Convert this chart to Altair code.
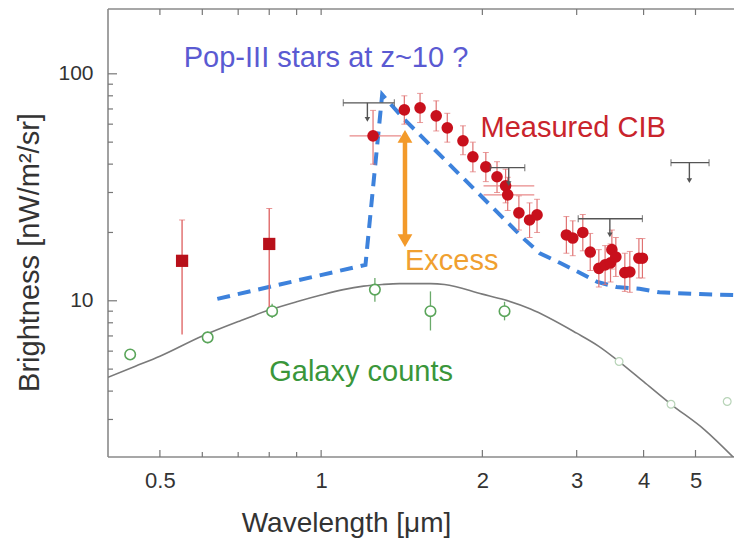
import altair as alt
import pandas as pd

FONT = "Liberation Sans"

# ---- data ----
# galaxy-count model curve (gray)
gal_x = [0.40, 0.45, 0.50, 0.60, 0.70, 0.80, 0.90, 1.00, 1.10, 1.20, 1.30, 1.40, 1.60, 1.70,
         2.00, 2.20, 2.46, 3.00, 3.30, 3.60, 4.00, 4.50, 5.20, 5.90]
gal_y = [4.6, 5.15, 5.7, 7.0, 8.1, 9.1, 9.9, 10.6, 11.2, 11.6, 11.8, 11.9, 11.9, 11.8,
         10.7, 10.1, 9.2, 7.2, 6.3, 5.4, 4.4, 3.5, 2.7, 2.03]

# Pop-III + galaxies model (blue dashed)
pop_x = [0.64, 1.21, 1.30, 1.43, 2.40, 2.56, 2.79, 3.04, 3.28, 3.56, 3.93, 4.28, 5.09, 5.9]
pop_y = [10.2, 14.4, 81.0, 63.0, 18.6, 16.2, 14.7, 13.3, 12.1, 11.5, 11.3, 10.9, 10.7, 10.6]

# galaxy counts (open green circles)
gc_x = [0.44, 0.614, 0.81, 1.26, 1.60, 2.20]
gc_y = [5.8, 6.9, 9.0, 11.2, 9.0, 9.0]
gc_lo = [5.5, 6.5, 8.4, 9.9, 7.4, 8.2]
gc_hi = [6.1, 7.3, 9.7, 12.6, 11.0, 9.9]
gcf_x = [3.6, 4.5, 5.73]
gcf_y = [5.4, 3.5, 3.6]

# red squares
sq_x = [0.55, 0.80]
sq_y = [15.0, 17.8]
sq_lo = [7.1, 9.4]
sq_hi = [22.7, 25.5]

# measured CIB (red circles)
cib_x = [1.25, 1.43, 1.53, 1.64, 1.72, 1.84, 1.92, 2.03, 2.13, 2.21, 2.23, 2.34, 2.45, 2.53,
         2.87, 2.95, 3.08, 3.18, 3.30, 3.39, 3.47, 3.49, 3.55, 3.69, 3.77, 3.92, 3.98]
cib_y = [53.3, 69.4, 70.8, 65.3, 57.8, 50.7, 43.1, 38.9, 35.2, 32.1, 29.3, 24.4, 22.7, 23.9,
         19.5, 18.9, 20.0, 16.4, 13.9, 14.4, 14.7, 16.8, 15.6, 13.3, 13.4, 15.4, 15.4]
cib_hi = [69.0, 80, 82, 76, 67, 59, 50, 45, 41, 38, 35, 29, 27, 28,
          23.5, 22.5, 24, 19.8, 16.8, 17.5, 17.8, 20.5, 19, 16.2, 16.5, 18.8, 18.8]
cib_lo = [40.0, 60, 61, 56, 50, 44, 37, 33.5, 30, 27, 25, 20.5, 19, 20,
          16.2, 15.8, 16.6, 13.6, 11.5, 11.8, 12.1, 13.8, 12.8, 11.0, 10.9, 12.6, 12.6]
# horizontal bars on some CIB points
cibh_x = [1.25, 2.21, 2.23]
cibh_y = [53.3, 32.1, 29.3]
cibh_lo = [1.13, 2.01, 2.01]
cibh_hi = [1.41, 2.50, 2.50]

# upper limits (gray)
ul_x = [1.22, 2.24, 3.46, 4.87]
ul_xlo = [1.10, 2.07, 3.02, 4.50]
ul_xhi = [1.37, 2.40, 3.98, 5.30]
ul_y = [74.5, 38.6, 23.0, 40.6]
ul_tip = [63.0, 32.8, 19.5, 33.8]

# excess arrow
exc_x = [1.434]
exc_top = [53.0]
exc_bot = [18.4]

# annotations
lab_text = ["Pop-III stars at z~10 ?", "Measured CIB", "Excess", "Galaxy counts"]
lab_x = [0.554, 1.984, 1.434, 0.80]
lab_y = [117.6, 57.8, 15.0, 4.88]
lab_col = ["#5a5ad2", "#c9242c", "#f0a030", "#3a963a"]

# tick positions
xt_major = [0.5, 1, 2, 3, 4, 5]
xt_minor = [0.6, 0.7, 0.8, 0.9]
yt_major = [10, 100]
yt_minor = [3, 4, 5, 6, 7, 8, 9, 20, 30, 40, 50, 60, 70, 80, 90]

# ---- chart ----
W, H = 626, 448
xs = alt.Scale(type="log", domain=[0.4, 5.9], nice=False)
ys = alt.Scale(type="log", domain=[2.05, 193], nice=False)

AX = alt.Axis(
    values=xt_major, format="~g", ticks=False, tickSize=0, domain=False, grid=False,
    labelFont=FONT, labelFontSize=22, labelColor="#333", labelPadding=13,
    title="Wavelength [μm]", titleFont=FONT, titleFontSize=28, titleFontWeight="normal",
    titleColor="#333", titleX=238, titleY=66, titleBaseline="middle", titleAlign="center")
AY = alt.Axis(
    values=yt_major, format="d", ticks=False, tickSize=0, domain=False, grid=False,
    labelFont=FONT, labelFontSize=21, labelColor="#333", labelPadding=15,
    title="Brightness [nW/m²/sr]", titleFont=FONT, titleFontSize=29, titleFontWeight="normal",
    titleColor="#333", titleX=-79, titleY=243, titleBaseline="middle", titleAlign="center")


def X(f):
    return alt.X(f, type="quantitative", scale=xs, axis=AX)


def Y(f):
    return alt.Y(f, type="quantitative", scale=ys, axis=AY)


gal = pd.DataFrame({"x": gal_x, "y": gal_y})
pop = pd.DataFrame({"x": pop_x, "y": pop_y})
gc = pd.DataFrame({"x": gc_x, "y": gc_y, "lo": gc_lo, "hi": gc_hi})
gcf = pd.DataFrame({"x": gcf_x, "y": gcf_y})
sq = pd.DataFrame({"x": sq_x, "y": sq_y, "lo": sq_lo, "hi": sq_hi})
cib = pd.DataFrame({"x": cib_x, "y": cib_y, "lo": cib_lo, "hi": cib_hi})
cibh = pd.DataFrame({"x": cibh_x, "y": cibh_y, "lo": cibh_lo, "hi": cibh_hi})
ul = pd.DataFrame({"x": ul_x, "xlo": ul_xlo, "xhi": ul_xhi, "y": ul_y, "tip": ul_tip})
exc = pd.DataFrame({"x": exc_x, "top": exc_top, "bot": exc_bot})
labs = pd.DataFrame({"t": lab_text, "x": lab_x, "y": lab_y, "c": lab_col})

# frame: top, left, bottom (the right side is cut off in the reference)
FR = dict(color="#8a8a8a", strokeWidth=1.6)
frame_top = alt.Chart(pd.DataFrame({"a": [0]})).mark_rule(**FR).encode(
    x=alt.value(0), x2=alt.value(W), y=alt.value(0))
frame_left = alt.Chart(pd.DataFrame({"a": [0]})).mark_rule(**FR).encode(
    x=alt.value(0), y=alt.value(0), y2=alt.value(H))
frame_bottom = alt.Chart(pd.DataFrame({"a": [0]})).mark_rule(**FR).encode(
    x=alt.value(0), x2=alt.value(W), y=alt.value(H))

gal_line = alt.Chart(gal).mark_line(color="#7a7a7a", strokeWidth=1.6, clip=True, interpolate="monotone").encode(
    x=X("x"), y=Y("y"))

# ticks (inward)
xtick_major = alt.Chart(pd.DataFrame({"v": xt_major})).mark_rule(color="#777", strokeWidth=1.2).encode(
    x=X("v"), y=alt.value(H), y2=alt.value(H - 7))
xtick_minor = alt.Chart(pd.DataFrame({"v": xt_minor})).mark_rule(color="#777", strokeWidth=1.2).encode(
    x=X("v"), y=alt.value(H), y2=alt.value(H - 5))
xtick_top = alt.Chart(pd.DataFrame({"v": xt_major + xt_minor})).mark_rule(color="#777", strokeWidth=1.2).encode(
    x=X("v"), y=alt.value(0), y2=alt.value(6))
ytick_major = alt.Chart(pd.DataFrame({"v": yt_major})).mark_rule(color="#777", strokeWidth=1.2).encode(
    y=Y("v"), x=alt.value(0), x2=alt.value(9))
ytick_minor = alt.Chart(pd.DataFrame({"v": yt_minor})).mark_rule(color="#777", strokeWidth=1.2).encode(
    y=Y("v"), x=alt.value(0), x2=alt.value(5))

# galaxy count points
gc_err = alt.Chart(gc).mark_rule(color="#6aaa6a", strokeWidth=1.3).encode(x=X("x"), y=Y("lo"), y2="hi")
gc_pts = alt.Chart(gc).mark_point(shape="circle", size=110, color="#5aa55a", strokeWidth=1.6,
                                  fill="white", filled=False, opacity=1).encode(x=X("x"), y=Y("y"))
gcf_pts = alt.Chart(gcf).mark_point(shape="circle", size=60, color="#b8d4b8", strokeWidth=1.2,
                                    fill="white", filled=False, opacity=1).encode(x=X("x"), y=Y("y"))

# blue dashed model
pop_line = alt.Chart(pop).mark_line(color="#3d82dc", strokeWidth=4, strokeDash=[13, 8], clip=True).encode(
    x=X("x"), y=Y("y"))

# red squares
sq_err = alt.Chart(sq).mark_rule(color="#e06a6a", strokeWidth=1.4).encode(x=X("x"), y=Y("lo"), y2="hi")
sq_cap_hi = alt.Chart(sq).mark_tick(color="#e06a6a", orient="horizontal", size=6, thickness=1).encode(
    x=X("x"), y=Y("hi"))
sq_pts = alt.Chart(sq).mark_square(color="#b8101a", size=150, opacity=1).encode(x=X("x"), y=Y("y"))

# CIB
cib_err = alt.Chart(cib).mark_rule(color="#e07272", strokeWidth=1.2).encode(x=X("x"), y=Y("lo"), y2="hi")
cib_cap_hi = alt.Chart(cib).mark_tick(color="#e07272", orient="horizontal", size=6, thickness=1).encode(
    x=X("x"), y=Y("hi"))
cib_cap_lo = alt.Chart(cib).mark_tick(color="#e07272", orient="horizontal", size=6, thickness=1).encode(
    x=X("x"), y=Y("lo"))
cibh_err = alt.Chart(cibh).mark_rule(color="#e88a8a", strokeWidth=1.2).encode(x=X("lo"), x2="hi", y=Y("y"))
cib_pts = alt.Chart(cib).mark_circle(color="#c8101c", size=135, opacity=1).encode(x=X("x"), y=Y("y"))

# upper limits
ul_bar = alt.Chart(ul).mark_rule(color="#555", strokeWidth=1.4).encode(x=X("xlo"), x2="xhi", y=Y("y"))
ul_cap1 = alt.Chart(ul).mark_tick(color="#555", orient="vertical", size=7, thickness=1.2).encode(
    x=X("xlo"), y=Y("y"))
ul_cap2 = alt.Chart(ul).mark_tick(color="#555", orient="vertical", size=7, thickness=1.2).encode(
    x=X("xhi"), y=Y("y"))
ul_stem = alt.Chart(ul).mark_rule(color="#555", strokeWidth=1.4).encode(x=X("x"), y=Y("y"), y2="tip")
ul_head = alt.Chart(ul).mark_point(shape="triangle-down", size=30, color="#555", filled=True, opacity=1).encode(
    x=X("x"), y=Y("tip"))

# excess arrow
exc_stem = alt.Chart(exc).mark_rule(color="#f39a2a", strokeWidth=4.5).encode(x=X("x"), y=Y("top"), y2="bot")
exc_up = alt.Chart(exc).mark_point(shape="triangle-up", size=220, color="#f39a2a", filled=True, opacity=1).encode(
    x=X("x"), y=Y("top"))
exc_dn = alt.Chart(exc).mark_point(shape="triangle-down", size=220, color="#f39a2a", filled=True, opacity=1).encode(
    x=X("x"), y=Y("bot"))

# annotations
texts = alt.Chart(labs).mark_text(font=FONT, fontSize=29, align="left", baseline="middle").encode(
    x=X("x"), y=Y("y"), text="t:N", color=alt.Color("c:N", scale=None))

chart = alt.layer(
    frame_top, frame_left, frame_bottom,
    gal_line, xtick_major, xtick_minor, xtick_top, ytick_major, ytick_minor,
    gc_err, gc_pts, gcf_pts, pop_line,
    sq_err, sq_cap_hi, sq_pts,
    cib_err, cib_cap_hi, cib_cap_lo, cibh_err, cib_pts,
    ul_bar, ul_cap1, ul_cap2, ul_stem, ul_head,
    exc_stem, exc_up, exc_dn,
    texts,
).properties(
    width=W, height=H,
    autosize=alt.AutoSizeParams(type="none"),
    padding={"left": 108, "top": 9, "right": 1, "bottom": 84},
    background="white",
).configure_view(strokeWidth=0)

chart.save("out.html", embed_options={"renderer": "svg", "actions": False})
